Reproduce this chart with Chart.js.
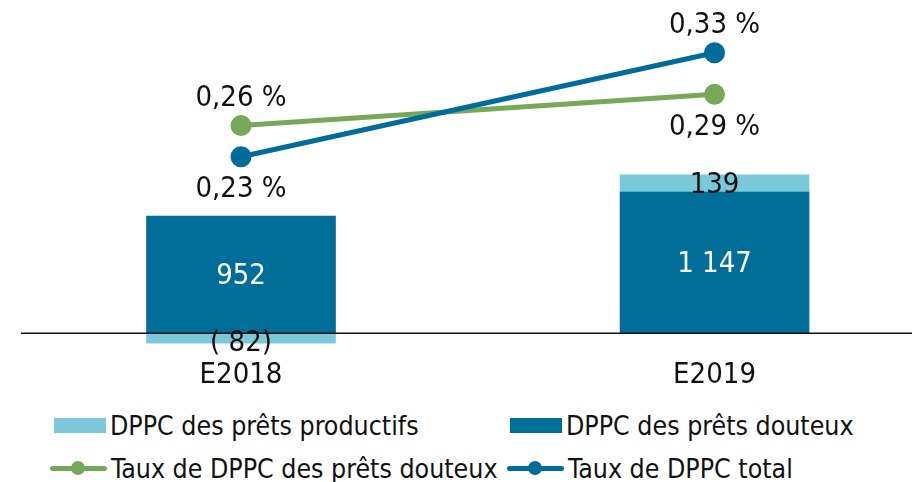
<!DOCTYPE html>
<html>
<head>
<meta charset="utf-8">
<script src="https://cdn.jsdelivr.net/npm/chart.js@4"></script>
<style>
  body { margin: 0; background: #fff; font-family: 'DejaVu Sans Condensed', 'DejaVu Sans', sans-serif; }
  #wrap { position: relative; width: 912px; height: 482px; }
  #legend { position: absolute; left: 0; top: 400px; width: 912px; height: 82px; }
  .item { position: absolute; display: flex; align-items: center; font-size: 26.5px; color: #111; white-space: nowrap; }
  .box { width: 52px; height: 15px; margin-right: 4px; }
  .ln { position: relative; width: 57px; height: 5px; margin-right: 4px; border-radius: 3px; }
  .ln i { position: absolute; left: 21px; top: -5px; width: 14px; height: 14px; border-radius: 50%; background: inherit; }
</style>
</head>
<body>
<div id="wrap">
  <canvas id="myChart" width="912" height="396"></canvas>
  <div id="legend"></div>
</div>
<script>
// data
const categories = ['E2018', 'E2019'];
const douteux = [952, 1147];          // DPPC des prêts douteux
const productifs = [-82, 139];        // DPPC des prêts productifs
const tauxDouteux = [0.26, 0.29];     // Taux de DPPC des prêts douteux (%)
const tauxTotal = [0.23, 0.33];       // Taux de DPPC total (%)

const lightBlue = '#7AC8DA';
const darkBlue = '#006E99';
const green = '#77A858';
const lineBlue = '#006C99';

Chart.defaults.font.family = "'DejaVu Sans Condensed', 'DejaVu Sans', sans-serif";
Chart.defaults.color = '#111';

function fmtBar(v) {
  const s = Math.abs(v).toString().replace(/\B(?=(\d{3})+(?!\d))/g, ' ');
  return v < 0 ? '( ' + s + ')' : s;
}
function fmtPct(v) {
  return v.toFixed(2).replace('.', ',') + ' %';
}

// labels + zero line
const labelPlugin = {
  id: 'labels',
  afterDatasetsDraw(chart) {
    const c = chart.ctx;
    const y0 = chart.scales.y.getPixelForValue(0);
    c.save();
    c.strokeStyle = '#111';
    c.lineWidth = 1.5;
    c.beginPath();
    c.moveTo(21, y0);
    c.lineTo(chart.width, y0);
    c.stroke();

    c.font = "29px 'DejaVu Sans Condensed', 'DejaVu Sans', sans-serif";
    c.textAlign = 'center';
    c.textBaseline = 'middle';
    chart.data.datasets.forEach((ds, di) => {
      const meta = chart.getDatasetMeta(di);
      meta.data.forEach((el, i) => {
        const v = ds.data[i].y;
        if (ds.type === 'bar') {
          c.fillStyle = ds.labelColor;
          const dy = v < 0 ? 5 : 2;
          c.fillText(fmtBar(v), el.x, (el.y + el.base) / 2 + dy);
        } else {
          c.fillStyle = '#111';
          const off = ds.labelSide[i] === 'above' ? -27 : 33;
          c.fillText(fmtPct(v), el.x, el.y + off);
        }
      });
    });
    c.restore();
  }
};

const ctx = document.getElementById('myChart').getContext('2d');
new Chart(ctx, {
  data: {
    datasets: [
      {
        type: 'line',
        label: 'Taux de DPPC des prêts douteux',
        data: categories.map((c, i) => ({ x: i, y: tauxDouteux[i] })),
        yAxisID: 'y2',
        borderColor: green,
        backgroundColor: green,
        borderWidth: 5,
        pointRadius: 8,
        labelSide: ['above', 'below'],
        order: 1
      },
      {
        type: 'line',
        label: 'Taux de DPPC total',
        data: categories.map((c, i) => ({ x: i, y: tauxTotal[i] })),
        yAxisID: 'y2',
        borderColor: lineBlue,
        backgroundColor: lineBlue,
        borderWidth: 5,
        pointRadius: 8,
        labelSide: ['below', 'above'],
        order: 0
      },
      {
        type: 'bar',
        label: 'DPPC des prêts douteux',
        data: categories.map((c, i) => ({ x: i, y: douteux[i] })),
        backgroundColor: darkBlue,
        barThickness: 189,
        stack: 's',
        labelColor: '#fff',
        order: 2
      },
      {
        type: 'bar',
        label: 'DPPC des prêts productifs',
        data: categories.map((c, i) => ({ x: i, y: productifs[i] })),
        backgroundColor: lightBlue,
        barThickness: 189,
        stack: 's',
        labelColor: '#111',
        order: 3
      }
    ]
  },
  options: {
    responsive: false,
    animation: false,
    layout: { padding: 0, autoPadding: false },
    plugins: { legend: { display: false }, tooltip: { enabled: false } },
    scales: {
      x: {
        type: 'linear',
        offset: false,
        bounds: 'data',
        min: -0.509,
        max: 1.417,
        grid: { display: false, drawTicks: false, offset: false },
        border: { display: false },
        afterBuildTicks: (axis) => { axis.ticks = categories.map((c, i) => ({ value: i })); },
        ticks: {
          autoSkip: false,
          maxRotation: 0,
          padding: 3,
          font: { size: 29 },
          callback: (v) => categories[v]
        }
      },
      y: {
        stacked: true,
        display: false,
        min: -179,
        max: 2707
      },
      y2: {
        display: false,
        min: 0.0393,
        max: 0.3807
      }
    }
  },
  plugins: [labelPlugin]
});

// legend
const legendItems = [
  { text: 'DPPC des prêts productifs', kind: 'box', color: lightBlue, left: 54, top: 25 },
  { text: 'DPPC des prêts douteux', kind: 'box', color: darkBlue, left: 510, top: 25 },
  { text: 'Taux de DPPC des prêts douteux', kind: 'ln', color: green, left: 50, top: 68 },
  { text: 'Taux de DPPC total', kind: 'ln', color: lineBlue, left: 507, top: 68 }
];
const legend = document.getElementById('legend');
legendItems.forEach(it => {
  const d = document.createElement('div');
  d.className = 'item';
  d.style.left = it.left + 'px';
  d.style.top = (it.top - 16) + 'px';
  d.style.height = '32px';
  const m = document.createElement('span');
  m.className = it.kind;
  m.style.background = it.color;
  if (it.kind === 'ln') m.appendChild(document.createElement('i'));
  d.appendChild(m);
  const t = document.createElement('span');
  t.textContent = it.text;
  d.appendChild(t);
  legend.appendChild(d);
});
</script>
</body>
</html>
